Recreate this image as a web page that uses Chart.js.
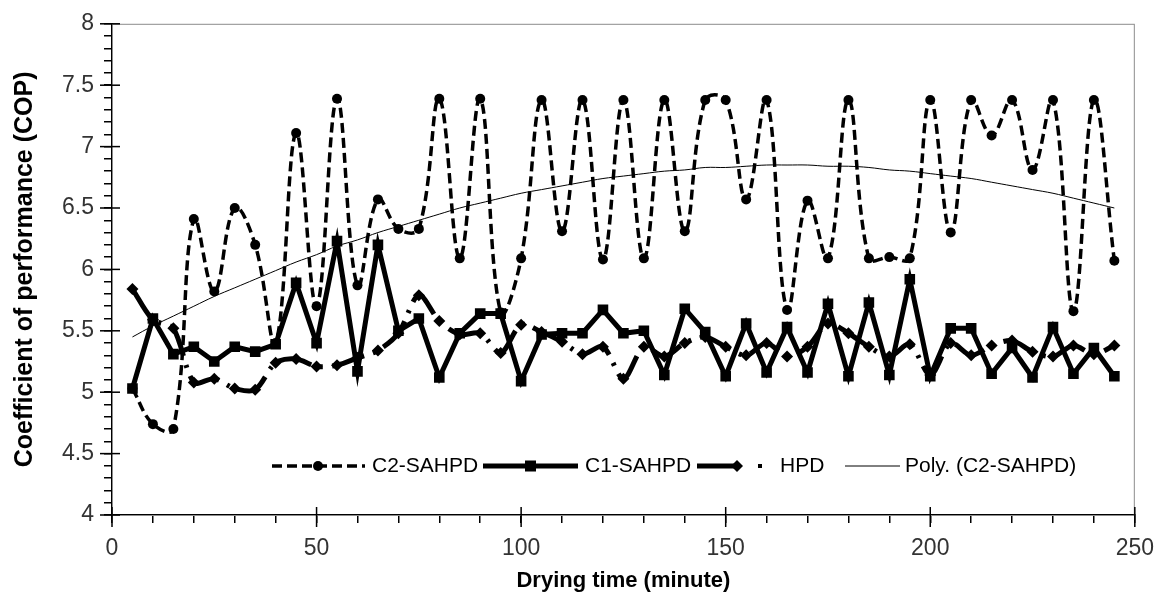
<!DOCTYPE html>
<html>
<head>
<meta charset="utf-8">
<script src="https://cdn.jsdelivr.net/npm/chart.js@4.4.1/dist/chart.umd.min.js"></script>
<style>
html,body{margin:0;padding:0;background:#fff;}
</style>
</head>
<body>
<canvas id="myChart" width="1166" height="596"></canvas>
<script>
// drying time, minutes
var minutes=[5,10,15,20,25,30,35,40,45,50,55,60,65,70,75,80,85,90,95,100,
  105,110,115,120,125,130,135,140,145,150,155,160,165,170,175,180,185,190,195,200,
  205,210,215,220,225,230,235,240,245];
// COP values
var c2=[5.03,4.74,4.70,6.41,5.82,6.50,6.20,5.40,7.11,5.70,7.39,5.87,6.57,6.33,6.33,7.39,6.09,7.39,5.65,6.09,
  7.38,6.31,7.38,6.08,7.38,6.09,7.38,6.31,7.38,7.38,6.57,7.38,5.67,6.56,6.09,7.38,6.09,6.10,6.09,7.38,
  6.30,7.38,7.09,7.38,6.81,7.38,5.66,7.38,6.07];
var c1=[5.03,5.60,5.31,5.37,5.25,5.37,5.33,5.39,5.89,5.40,6.23,5.17,6.20,5.50,5.60,5.12,5.48,5.64,5.64,5.09,
  5.47,5.48,5.48,5.67,5.48,5.50,5.14,5.68,5.49,5.13,5.56,5.16,5.53,5.16,5.72,5.13,5.73,5.14,5.92,5.13,
  5.52,5.52,5.15,5.36,5.12,5.53,5.15,5.36,5.13];
var hpd=[5.84,5.59,5.52,5.08,5.11,5.03,5.02,5.24,5.27,5.21,5.22,5.28,5.34,5.48,5.79,5.58,5.47,5.48,5.32,5.55,
  5.49,5.41,5.31,5.37,5.11,5.37,5.29,5.40,5.45,5.37,5.30,5.40,5.29,5.37,5.56,5.48,5.37,5.29,5.39,5.14,
  5.40,5.30,5.38,5.42,5.33,5.29,5.38,5.31,5.38];
// Poly. (C2-SAHPD) trendline
var c2Poly=[5.45,5.54,5.62,5.70,5.78,5.85,5.92,5.99,6.06,6.12,6.19,6.24,6.30,6.35,6.40,6.45,6.50,6.54,6.58,6.62,
  6.65,6.68,6.71,6.74,6.76,6.78,6.80,6.81,6.83,6.83,6.84,6.85,6.85,6.85,6.84,6.84,6.83,6.81,6.80,6.78,
  6.76,6.74,6.71,6.68,6.65,6.62,6.58,6.54,6.50];
var xTicks=[0,50,100,150,200,250];
var yTicks=[4,4.5,5,5.5,6,6.5,7,7.5,8];
var seriesNames=['C2-SAHPD','C1-SAHPD','HPD','Poly. (C2-SAHPD)'];

function pts(vals){
  return vals.map(function(v,i){return {x:minutes[i],y:v};});
}
function isMajor(v,list){
  for(var i=0;i<list.length;i++){ if(Math.abs(v-list[i])<1e-6) return true; }
  return false;
}

var FONT="'Liberation Sans', Arial, sans-serif";
var c2Dash=[10,5];
var hpdDash=[34,9,3,9];

var extras={
  id:'extras',
  beforeDatasetsDraw:function(chart){
    var a=chart.chartArea, ctx=chart.ctx;
    ctx.save();
    ctx.strokeStyle='#8c8c8c';
    ctx.lineWidth=1;
    ctx.strokeRect(a.left+0.5,a.top+0.5,a.right-a.left-1,a.bottom-a.top);
    // major ticks cross into the plot
    ctx.strokeStyle='#000';
    ctx.lineWidth=1.5;
    var xs=chart.scales.x, ys=chart.scales.y;
    xTicks.forEach(function(t){
      var px=xs.getPixelForValue(t);
      ctx.beginPath();ctx.moveTo(px,a.bottom-8);ctx.lineTo(px,a.bottom+12);ctx.stroke();
    });
    yTicks.forEach(function(t){
      var py=ys.getPixelForValue(t);
      ctx.beginPath();ctx.moveTo(a.left-12,py);ctx.lineTo(a.left+8,py);ctx.stroke();
    });
    ctx.restore();
  },
  afterDraw:function(chart){
    var ctx=chart.ctx;
    var y=466;
    ctx.save();
    ctx.font='21px '+FONT;
    ctx.fillStyle='#000';
    ctx.textBaseline='middle';
    ctx.strokeStyle='#000';
    // C2
    ctx.lineWidth=3.5;ctx.setLineDash(c2Dash);
    ctx.beginPath();ctx.moveTo(272,y);ctx.lineTo(365,y);ctx.stroke();
    ctx.setLineDash([]);
    ctx.beginPath();ctx.arc(318,y,5,0,Math.PI*2);ctx.fill();
    ctx.fillText(seriesNames[0],372,y);
    // C1
    ctx.lineWidth=5;
    ctx.beginPath();ctx.moveTo(483,y);ctx.lineTo(578,y);ctx.stroke();
    ctx.fillRect(525,y-5.5,11,11);
    ctx.fillText(seriesNames[1],585,y);
    // HPD: dash, diamond, dot
    ctx.lineWidth=5;
    ctx.beginPath();ctx.moveTo(697,y);ctx.lineTo(734,y);ctx.stroke();
    ctx.beginPath();ctx.moveTo(737,y-6);ctx.lineTo(743,y);ctx.lineTo(737,y+6);ctx.lineTo(731,y);ctx.closePath();ctx.fill();
    ctx.fillRect(758,y-2,4,4);
    ctx.fillText(seriesNames[2],780,y);
    // Poly
    ctx.lineWidth=1;
    ctx.beginPath();ctx.moveTo(845,y);ctx.lineTo(900,y);ctx.stroke();
    ctx.fillText(seriesNames[3],905,y);
    ctx.restore();
  }
};

var chartdata={
  datasets:[
    {
      label:seriesNames[0],
      data:pts(c2),
      borderColor:'#000',
      backgroundColor:'#000',
      borderWidth:3.5,
      borderDash:c2Dash,
      tension:0.4,
      pointStyle:'circle',
      pointRadius:5,
      pointBorderWidth:0,
      order:2
    },
    {
      label:seriesNames[1],
      data:pts(c1),
      borderColor:'#000',
      backgroundColor:'#000',
      borderWidth:5,
      tension:0,
      pointStyle:'rect',
      pointRadius:7.5,
      pointBorderWidth:0,
      order:1
    },
    {
      label:seriesNames[2],
      data:pts(hpd),
      borderColor:'#000',
      backgroundColor:'#000',
      borderWidth:5,
      borderDash:hpdDash,
      tension:0.3,
      pointStyle:'rectRot',
      pointRadius:6,
      pointBorderWidth:0,
      order:3
    },
    {
      label:seriesNames[3],
      data:pts(c2Poly),
      borderColor:'#000',
      borderWidth:1,
      pointRadius:0,
      tension:0.4,
      order:4
    }
  ]
};

var options={
  responsive:false,
  animation:false,
  events:[],
  layout:{padding:{left:0,top:17,right:29,bottom:0}},
  plugins:{legend:{display:false},tooltip:{enabled:false}},
  scales:{
    x:{
      type:'linear',min:0,max:250,
      afterFit:function(s){s.height=81;},
      ticks:{stepSize:10,autoSkip:false,maxRotation:0,padding:12,color:'#333',
        font:{family:FONT,size:23},
        callback:function(v){return isMajor(v,xTicks)?String(v):'';}},
      grid:{drawOnChartArea:false,drawTicks:true,tickLength:8,color:'#000',lineWidth:1.5},
      border:{display:true,color:'#000',width:2},
      title:{display:true,text:'Drying time (minute)',color:'#000',
        font:{family:FONT,size:22,weight:'bold'},padding:{top:0,bottom:2}}
    },
    y:{
      type:'linear',min:4,max:8,
      afterFit:function(s){s.width=112;},
      ticks:{stepSize:0.1,autoSkip:false,padding:10,color:'#333',
        font:{family:FONT,size:23},
        callback:function(v){return isMajor(v,yTicks)?String(Math.round(v*10)/10):'';}},
      grid:{drawOnChartArea:false,drawTicks:true,tickLength:8,color:'#000',lineWidth:1.5},
      border:{display:true,color:'#000',width:2},
      title:{display:true,text:'Coefficient of performance (COP)',color:'#000',
        font:{family:FONT,size:25,weight:'bold'},padding:{top:10,bottom:0}}
    }
  }
};

var graph=new Chart(document.getElementById('myChart'),{
  type:'line',
  data:chartdata,
  options:options,
  plugins:[extras]
});
</script>
</body>
</html>
